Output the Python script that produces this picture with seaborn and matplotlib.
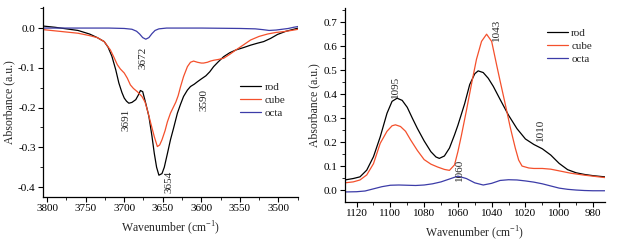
import numpy as np
import pandas as pd
import matplotlib
matplotlib.use('Agg')
import matplotlib.pyplot as plt
import seaborn as sns
from matplotlib.ticker import MultipleLocator, FormatStrFormatter

# OH stretching region (left panel)
oh_wn_rod = [3805, 3790, 3775, 3760, 3745, 3735, 3726, 3721, 3716, 3711, 3707, 3703, 3700,
             3697, 3694, 3690, 3685, 3681, 3679, 3676, 3672, 3668, 3664, 3661, 3658, 3655,
             3651, 3648, 3644, 3640, 3636, 3631, 3627, 3623, 3618, 3614, 3609, 3605, 3600,
             3594, 3589, 3584, 3578, 3571, 3563, 3555, 3545, 3536, 3527, 3519, 3510, 3501,
             3490, 3480, 3474]
oh_rod = [0.005, 0.002, -0.002, -0.006, -0.015, -0.024, -0.034, -0.048, -0.071, -0.105,
          -0.138, -0.162, -0.176, -0.184, -0.189, -0.187, -0.180, -0.166, -0.157, -0.160,
          -0.190, -0.222, -0.272, -0.315, -0.350, -0.370, -0.366, -0.350, -0.316, -0.281,
          -0.252, -0.214, -0.192, -0.172, -0.156, -0.147, -0.141, -0.135, -0.128, -0.120,
          -0.110, -0.097, -0.085, -0.072, -0.062, -0.055, -0.049, -0.043, -0.038, -0.034,
          -0.026, -0.016, -0.008, -0.003, 0.000]

oh_wn_cube = [3805, 3790, 3775, 3760, 3745, 3735, 3726, 3718, 3713, 3709, 3705, 3700, 3696,
              3692, 3688, 3683, 3677, 3673, 3670, 3666, 3661, 3657, 3654, 3651, 3647, 3644,
              3640, 3636, 3633, 3630, 3627, 3623, 3618, 3614, 3610, 3605, 3600, 3597, 3592,
              3588, 3584, 3578, 3571, 3563, 3555, 3545, 3536, 3525, 3514, 3503, 3493, 3483,
              3474]
oh_cube = [-0.004, -0.007, -0.010, -0.013, -0.019, -0.024, -0.034, -0.055, -0.075, -0.092,
           -0.103, -0.113, -0.126, -0.143, -0.152, -0.160, -0.172, -0.186, -0.206, -0.236,
           -0.273, -0.298, -0.294, -0.281, -0.258, -0.236, -0.214, -0.198, -0.186, -0.170,
           -0.148, -0.122, -0.097, -0.086, -0.083, -0.086, -0.088, -0.088, -0.086, -0.083,
           -0.081, -0.079, -0.076, -0.066, -0.055, -0.042, -0.030, -0.021, -0.015, -0.011,
           -0.009, -0.006, -0.003]

oh_wn_octa = [3805, 3760, 3720, 3700, 3690, 3684, 3680, 3676, 3672, 3668, 3664, 3660, 3655,
              3645, 3600, 3550, 3530, 3520, 3512, 3503, 3495, 3487, 3480, 3474]
oh_octa = [0.000, 0.000, 0.000, -0.001, -0.003, -0.008, -0.015, -0.024, -0.028, -0.024,
           -0.014, -0.006, -0.002, 0.000, 0.000, -0.001, -0.002, -0.004, -0.006, -0.005,
           -0.003, -0.001, 0.002, 0.004]

# lattice region (right panel)
lat_wn_rod = [1127, 1122, 1118, 1114, 1110, 1106, 1102, 1099, 1096, 1093, 1090, 1087, 1084,
              1080, 1076, 1073, 1071, 1068, 1065, 1062, 1060, 1056, 1053, 1050, 1048, 1045,
              1042, 1039, 1035, 1030, 1025, 1020, 1015, 1010, 1005, 1000, 995, 990, 985, 980,
              973]
lat_rod = [0.042, 0.048, 0.055, 0.083, 0.139, 0.222, 0.320, 0.370, 0.383, 0.374, 0.345,
           0.300, 0.257, 0.205, 0.160, 0.138, 0.132, 0.142, 0.175, 0.230, 0.270, 0.360,
           0.440, 0.485, 0.497, 0.490, 0.466, 0.432, 0.378, 0.312, 0.256, 0.213, 0.190,
           0.172, 0.146, 0.111, 0.085, 0.072, 0.065, 0.060, 0.055]

lat_wn_cube = [1127, 1122, 1118, 1114, 1110, 1106, 1102, 1099, 1097, 1094, 1091, 1088, 1084,
               1080, 1076, 1072, 1068, 1065, 1062, 1060, 1058, 1055, 1052, 1049, 1046, 1043,
               1040, 1037, 1035, 1032, 1029, 1026, 1024, 1022, 1018, 1015, 1010, 1005, 1000,
               993, 985, 973]
lat_cube = [0.030, 0.034, 0.042, 0.063, 0.110, 0.195, 0.245, 0.268, 0.272, 0.265, 0.245,
            0.209, 0.165, 0.127, 0.108, 0.096, 0.086, 0.082, 0.105, 0.160, 0.225, 0.330,
            0.440, 0.545, 0.620, 0.650, 0.620, 0.520, 0.455, 0.360, 0.262, 0.175, 0.125,
            0.100, 0.092, 0.090, 0.090, 0.087, 0.080, 0.070, 0.062, 0.052]

lat_wn_octa = [1127, 1120, 1115, 1110, 1105, 1100, 1095, 1090, 1085, 1080, 1075, 1070, 1065,
               1060, 1055, 1050, 1045, 1040, 1035, 1030, 1025, 1020, 1015, 1010, 1005, 1000,
               995, 990, 985, 980, 973]
lat_octa = [-0.008, -0.007, -0.004, 0.005, 0.014, 0.020, 0.021, 0.020, 0.019, 0.021,
            0.026, 0.034, 0.046, 0.058, 0.048, 0.030, 0.021, 0.028, 0.040, 0.043, 0.042,
            0.038, 0.033, 0.026, 0.017, 0.008, 0.003, 0.000, -0.002, -0.003, -0.003]

oh_peaks = ['3691', '3672', '3654', '3590']
oh_peak_pos = [(3698, -0.232), (3676, -0.075), (3642, -0.388), (3596, -0.180)]
lat_peaks = ['1095', '1043', '1060', '1010']
lat_peak_pos = [(1097, 0.432), (1037, 0.668), (1059, 0.085), (1011, 0.250)]

names = ['rod', 'cube', 'octa']
colors = {'rod': '#000000', 'cube': '#f4502c', 'octa': '#3c3ca8'}

sns.set_style('ticks')
plt.rcParams['font.family'] = ['Liberation Serif', 'DejaVu Serif']
plt.rcParams['mathtext.fontset'] = 'custom'
plt.rcParams['mathtext.rm'] = 'Liberation Serif'
plt.rcParams['axes.unicode_minus'] = False


def long_frame(xs, ys):
    parts = []
    for name, x, y in zip(names, xs, ys):
        parts.append(pd.DataFrame({'wn': x, 'abs': y, 'sample': name}))
    return pd.concat(parts, ignore_index=True)


def style_axis(ax, xmajor, xminor, ymajor, yminor):
    ax.xaxis.set_major_locator(MultipleLocator(xmajor))
    ax.xaxis.set_minor_locator(MultipleLocator(xminor))
    ax.yaxis.set_major_locator(MultipleLocator(ymajor))
    ax.yaxis.set_minor_locator(MultipleLocator(yminor))
    ax.yaxis.set_major_formatter(FormatStrFormatter('%.1f'))
    ax.tick_params(which='major', length=3.5, width=0.8, labelsize=8, pad=2,
                   direction='out', colors='black')
    ax.tick_params(which='minor', length=2, width=0.7, direction='out')
    for s in ['top', 'right']:
        ax.spines[s].set_visible(False)
    for s in ['left', 'bottom']:
        ax.spines[s].set_linewidth(0.9)
        ax.spines[s].set_color('black')
    ax.set_xlabel('Wavenumber (cm$^{-1}$)', fontsize=8.5, labelpad=4)
    ax.set_ylabel('Absorbance (a.u.)', fontsize=8.5, labelpad=2)
    leg = ax.get_legend()
    if leg is not None:
        leg.remove()


fig = plt.figure(figsize=(6.19, 2.44), dpi=100)
ax1 = fig.add_axes([0.070, 0.194, 0.412, 0.779])
ax2 = fig.add_axes([0.557, 0.173, 0.420, 0.793])

df_oh = long_frame([oh_wn_rod, oh_wn_cube, oh_wn_octa], [oh_rod, oh_cube, oh_octa])
df_lat = long_frame([lat_wn_rod, lat_wn_cube, lat_wn_octa], [lat_rod, lat_cube, lat_octa])

sns.lineplot(data=df_oh, x='wn', y='abs', hue='sample', palette=colors, sort=False,
             linewidth=0.9, ax=ax1)
sns.lineplot(data=df_lat, x='wn', y='abs', hue='sample', palette=colors, sort=False,
             linewidth=0.9, ax=ax2)

ax1.set_xlim(3805, 3474)
ax1.set_ylim(-0.424, 0.054)
ax2.set_xlim(1127, 973)
ax2.set_ylim(-0.049, 0.758)

style_axis(ax1, 50, 25, 0.1, 0.05)
style_axis(ax2, 20, 10, 0.1, 0.05)

for lab, (x, y) in zip(oh_peaks, oh_peak_pos):
    ax1.text(x, y, lab, rotation=90, ha='center', va='center', fontsize=8)
for lab, (x, y) in zip(lat_peaks, lat_peak_pos):
    ax2.text(x, y, lab, rotation=90, ha='center', va='center', fontsize=8)

ax1.legend(handles=ax1.get_lines()[:3], labels=names, loc='upper left',
           bbox_to_anchor=(0.755, 0.625), frameon=False, fontsize=8, handlelength=1.9,
           handletextpad=0.3, labelspacing=0.3, borderaxespad=0)
ax2.legend(handles=ax2.get_lines()[:3], labels=names, loc='upper left',
           bbox_to_anchor=(0.76, 0.92), frameon=False, fontsize=8, handlelength=1.9,
           handletextpad=0.3, labelspacing=0.3, borderaxespad=0)

fig.savefig('out.png', dpi=100)
